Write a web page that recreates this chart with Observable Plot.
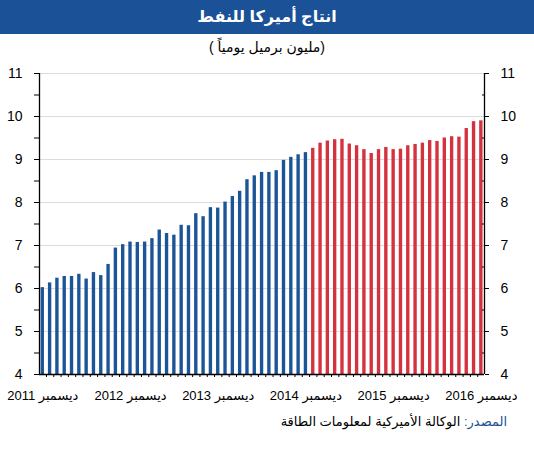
<!DOCTYPE html>
<html>
<head>
<meta charset="utf-8">
<script src="https://cdn.jsdelivr.net/npm/d3@7"></script>
<script src="https://cdn.jsdelivr.net/npm/@observablehq/plot@0.6"></script>
<style>
  body { margin: 0; width: 534px; height: 450px; position: relative; background: #fff; overflow: hidden;
         font-family: "Liberation Sans", "DejaVu Sans", sans-serif; color: #000; }
  #title { position: absolute; left: 0; top: 0; width: 534px; height: 34px; background: #1b5196; color: #fff;
           font-weight: bold; font-size: 16px; line-height: 34px; text-align: center; }
  #subtitle { position: absolute; left: 0; top: 37px; width: 534px; font-size: 14px; line-height: 20px; text-align: center; }
  #chart { position: absolute; left: 0; top: 58px; }
  #source { position: absolute; right: 27px; top: 413px; font-size: 13px; line-height: 18px; white-space: nowrap; }
  #source .lbl { color: #1b5196; }
</style>
</head>
<body>
<div id="title" dir="rtl">انتاج أميركا للنفط</div>
<div id="subtitle" dir="ltr">( مليون برميل يومياً)</div>
<div id="chart"></div>
<div id="source" dir="rtl"><span class="lbl">المصدر:</span> الوكالة الأميركية لمعلومات الطاقة</div>
<script>
// Months: December 2011 .. December 2016 (61 monthly bars)
const startMonth = new Date(Date.UTC(2011, 11, 1));
const endMonth = new Date(Date.UTC(2017, 0, 1));
const months = d3.utcMonth.range(startMonth, endMonth);

// US crude oil production, million barrels per day
const production = [
  6.02,
  6.13, 6.24, 6.28, 6.28, 6.33, 6.22, 6.37, 6.30, 6.56, 6.94, 7.02, 7.08,
  7.07, 7.08, 7.16, 7.36, 7.28, 7.24, 7.47, 7.46, 7.74, 7.67, 7.88, 7.87,
  8.01, 8.14, 8.26, 8.53, 8.62, 8.70, 8.70, 8.74, 8.98, 9.05, 9.11, 9.16,
  9.26, 9.38, 9.43, 9.46, 9.47, 9.36, 9.32, 9.23, 9.14, 9.23, 9.28, 9.23,
  9.24, 9.32, 9.35, 9.38, 9.44, 9.42, 9.50, 9.53, 9.52, 9.72, 9.88, 9.90
];

// Colour periods: blue through December 2014, red from January 2015
const periods = ["until2014", "from2015"];
const periodColors = ["#1c5597", "#d3323e"];
const splitMonth = new Date(Date.UTC(2015, 0, 1));

// X tick labels (every December)
const yearLabels = ["ديسمبر 2011", "ديسمبر 2012", "ديسمبر 2013", "ديسمبر 2014", "ديسمبر 2015", "ديسمبر 2016"];
const yTicks = [4, 5, 6, 7, 8, 9, 10, 11];
const yHalfTicks = [4.5, 5.5, 6.5, 7.5, 8.5, 9.5, 10.5];

const rows = production.map((v, i) => ({
  i, date: months[i], v, period: months[i] < splitMonth ? periods[0] : periods[1]
}));
const decemberIdx = rows.filter(d => d.date.getUTCMonth() === 11).map(d => d.i);
const monthGaps = rows.slice(0, -1).map(d => d.i + 0.5);
const allYTicks = [...yTicks, ...yHalfTicks];

const xDomain = [-0.45, production.length - 1 + 0.43];
const halfBar = 0.23;
const noText = () => "";
const intFmt = d3.format("d");

const chart = Plot.plot({
  width: 534,
  height: 350,
  marginLeft: 39,
  marginRight: 50,
  marginTop: 15,
  marginBottom: 34,
  x: { domain: xDomain, axis: null },
  y: { domain: [4, 11], axis: null },
  color: { domain: periods, range: periodColors },
  style: { fontFamily: "Liberation Sans, DejaVu Sans, sans-serif", fontSize: "13px", color: "#000", background: "transparent", overflow: "visible" },
  marks: [
    Plot.gridY(yTicks.slice(1), { stroke: "#dcdcdc", strokeOpacity: 1 }),
    Plot.rectY(rows, { x1: d => d.i - halfBar, x2: d => d.i + halfBar, y1: 4, y2: "v", fill: "period" }),
    Plot.ruleX([xDomain[0], xDomain[1]], { stroke: "#000", strokeWidth: 1.3 }),
    Plot.ruleY([4], { stroke: "#000", strokeWidth: 1.3 }),
    Plot.axisY({ anchor: "left", ticks: allYTicks, tickSize: 5, tickFormat: noText, label: null, stroke: "#000" }),
    Plot.axisY({ anchor: "left", ticks: yTicks, tickSize: 0, tickPadding: 17, fontSize: 14, tickFormat: intFmt, label: null }),
    Plot.axisY({ anchor: "right", ticks: yTicks, tickSize: 4, tickPadding: 12, fontSize: 14, tickFormat: intFmt, label: null, stroke: "#000" }),
    Plot.axisY({ anchor: "right", ticks: yHalfTicks, tickSize: 3, tickFormat: noText, label: null, dx: -3, stroke: "#000" }),
    Plot.axisX({ anchor: "bottom", ticks: monthGaps, tickSize: 3, tickFormat: noText, label: null, stroke: "#000" }),
    Plot.axisX({ anchor: "bottom", ticks: decemberIdx, tickSize: 0, tickPadding: 16, fontSize: 13, label: null,
                 tickFormat: i => yearLabels[decemberIdx.indexOf(i)] })
  ]
});
document.getElementById("chart").appendChild(chart);
</script>
</body>
</html>
